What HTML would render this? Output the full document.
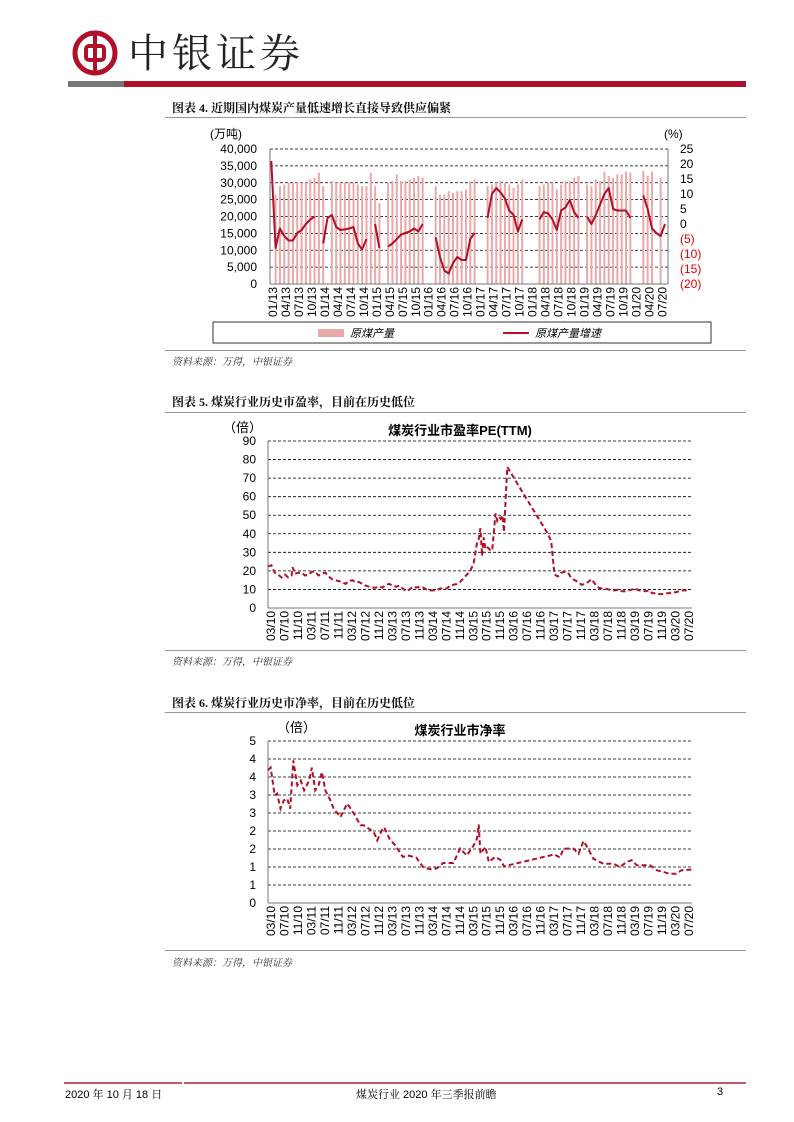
<!DOCTYPE html>
<html><head><meta charset="utf-8">
<style>
body{margin:0;width:794px;height:1122px;background:#fff;position:relative;overflow:hidden;font-family:"Liberation Sans","Noto Sans CJK SC",sans-serif;}
.abs{position:absolute;}
.sec{font-family:"Liberation Serif","Noto Serif CJK SC",serif;font-weight:bold;font-size:12px;color:#111;}
.src{font-family:"Liberation Serif","Noto Serif CJK SC",serif;font-style:italic;font-size:10px;color:#333;}
.hl{height:1px;background:#999;}
svg text{font-family:"Liberation Sans","Noto Sans CJK SC",sans-serif;}
</style></head><body>
<svg class="abs" style="left:72px;top:30px" width="46" height="46">
<circle cx="23" cy="23" r="20" fill="none" stroke="#b0102a" stroke-width="5"/>
<rect x="14" y="16" width="18" height="14" rx="3" fill="none" stroke="#b0102a" stroke-width="4"/>
<line x1="23" y1="3" x2="23" y2="43" stroke="#b0102a" stroke-width="4"/>
</svg>
<div class="abs" style="left:128px;top:26px;font-family:'Noto Serif CJK SC',serif;font-size:40px;letter-spacing:4px;color:#222;line-height:50px">中银证券</div>
<div class="abs" style="left:68px;top:81px;width:56px;height:6px;background:#777"></div>
<div class="abs" style="left:124px;top:81px;width:622px;height:6px;background:#b0102a"></div>

<div class="abs sec" style="left:172px;top:99px">图表 4. 近期国内煤炭产量低速增长直接导致供应偏紧</div>
<div class="abs hl" style="left:165px;top:117px;width:581px"></div>
<svg class="abs" id="c1" style="left:0;top:118px" width="794" height="232"></svg>
<div class="abs hl" style="left:165px;top:350px;width:581px"></div>
<div class="abs src" style="left:172px;top:353px">资料来源：万得，中银证券</div>

<div class="abs sec" style="left:172px;top:393px">图表 5. 煤炭行业历史市盈率，目前在历史低位</div>
<div class="abs hl" style="left:165px;top:412px;width:581px"></div>
<svg class="abs" id="c2" style="left:0;top:413px" width="794" height="237"></svg>
<div class="abs hl" style="left:165px;top:650px;width:581px"></div>
<div class="abs src" style="left:172px;top:653px">资料来源：万得，中银证券</div>

<div class="abs sec" style="left:172px;top:694px">图表 6. 煤炭行业历史市净率，目前在历史低位</div>
<div class="abs hl" style="left:165px;top:712px;width:581px"></div>
<svg class="abs" id="c3" style="left:0;top:713px" width="794" height="237"></svg>
<div class="abs hl" style="left:165px;top:950px;width:581px"></div>
<div class="abs src" style="left:172px;top:954px">资料来源：万得，中银证券</div>

<div class="abs" style="left:64px;top:1082px;width:118px;height:2px;background:#c05a6a"></div>
<div class="abs" style="left:184px;top:1082px;width:562px;height:2px;background:#c05a6a"></div>
<div class="abs" style="left:65px;top:1086px;font-size:11px;font-family:'Liberation Sans','Noto Serif CJK SC',sans-serif">2020 年 10 月 18 日</div>
<div class="abs" style="left:356px;top:1086px;font-size:11px;font-family:'Liberation Sans','Noto Serif CJK SC',sans-serif">煤炭行业 2020 年三季报前瞻</div>
<div class="abs" style="left:717px;top:1086px;font-size:11px">3</div>

<script>
// ---------- Chart 1 data ----------
const c1Labels=["01/13","04/13","07/13","10/13","01/14","04/14","07/14","10/14","01/15","04/15","07/15","10/15","01/16","04/16","07/16","10/16","01/17","04/17","07/17","10/17","01/18","04/18","07/18","10/18","01/19","04/19","07/19","10/19","01/20","04/20","07/20"];
const c1LeftTicks=[0,5000,10000,15000,20000,25000,30000,35000,40000];
const c1RightTicks=[-20,-15,-10,-5,0,5,10,15,20,25];
const output=[null,26500,29000,29500,30000,30000,30000,30000,30000,31000,31500,33000,
29000,null,30500,30000,30000,30000,30000,30000,29500,29000,29000,33000,
29000,24000,null,30000,30500,32500,30500,30500,31000,31500,32000,31500,
null,null,29000,26500,26500,27500,27000,27500,27500,28000,30500,31000,
null,null,29000,29500,30000,30500,30000,29500,28500,29500,31000,null,
null,null,29000,29500,30000,30000,28000,29500,30500,30500,31500,32000,
null,29500,29000,31000,30500,33300,32000,31500,32500,32500,33300,33000,
null,null,33500,32000,33300,null,31500,null];
const growth=[21,-8,-1.5,-4,-5.5,-5.5,-3,-2,0,1.5,2.5,null,
-6.5,2,3,-1,-2,-1.8,-1.5,-1,-6.5,-8.5,-5,null,
0,-8,null,-7.5,-6.5,-5,-3.5,-3,-2.5,-1.5,-2.5,0,
null,null,-4.5,-11,-15.5,-16.5,-13,-11,-12,-12,-5,-3,
null,null,2,10,12,10.5,8.5,4.5,3,-2.5,1.5,null,
null,null,1.5,4,3.5,1.5,-2,4.5,5.5,8,4,2,
null,2.5,0,3,6.5,10,12,5,4.5,4.5,4.5,2,
null,null,9.5,5,-1.5,-3,-4,0];

// ---------- Chart 2 data ----------
const peMonths=[0,1,2,3,4,5,6,7,7.3,8,9,10,11,12,13,14,15,16,17,18,19,20,21,22,23,24,25,26,27,28,29,30,31,32,33,34,35,36,37,38,39,40,41,42,43,44,45,46,47,48,49,50,51,52,53,54,55,56,57,58,59,60,61,62,62.5,63,63.5,64,64.5,65,66,66.5,67,67.5,68,68.5,69,69.5,70,71,83,84,85,86,87,88,89,90,91,92,93,94,95,96,97,98,99,100,101,102,103,104,105,106,107,108,109,110,111,112,113,114,115,116,117,118,119,120,121,122,123,124,125];
const peValues=[22.5,23,19,18,16.5,18,16.5,17.5,22,18.5,19,19,17.5,18,19.5,19.5,17.5,18.5,19,17,15.5,15,14.5,14,13,14.5,15,14,14,13,12,11.5,11,11,11.5,11,12.5,13,12,11.5,12,10.5,9,10,11.5,11,11.5,11,10,9.5,9.5,9.5,10.5,10.5,10.5,12,12.5,13,14,16,18,20,24,35,37,43,28,38,32,33,31,31,41,51,47,49,48,50,41,76,40,36,18,17,19,19.5,19,16,15,14,12.5,13,14,15.5,13,11,10.5,10.5,10,9.5,9.5,10,9,9,9.5,10,10.5,9.5,9.5,9,9.5,8,8,7.5,7.5,8,8,8.5,8.5,9,9.5,9.5,9.5];
const c2Labels=["03/10","07/10","11/10","03/11","07/11","11/11","03/12","07/12","11/12","03/13","07/13","11/13","03/14","07/14","11/14","03/15","07/15","11/15","03/16","07/16","11/16","03/17","07/17","11/17","03/18","07/18","11/18","03/19","07/19","11/19","03/20","07/20"];
const peTicks=[0,10,20,30,40,50,60,70,80,90];

// ---------- Chart 3 data ----------
const pbMonths=[0,0.8,2,2.7,3.7,4.7,5.7,6.6,7.5,8.7,9.7,10.7,12.2,13,14,15,16,17,18.5,19.5,21.5,23.5,25.5,27.4,28.4,31.4,32.4,34,34.5,36,38,40,41.5,44,46,48,50,52,55,57,59,61,62,62.5,63,64.5,65.5,67.4,68.9,70,85,86.6,87.7,90.6,92.1,93.6,94.6,96.5,99.5,102.5,104.4,106.4,107.9,109.4,113.3,115.3,117.3,119.2,121,122.7,126];
const pbValues=[3.69,3.76,2.99,3.04,2.62,2.85,2.9,2.62,3.96,3.27,3.4,3.13,3.4,3.76,3.13,3.27,3.64,3.13,2.85,2.62,2.39,2.76,2.48,2.16,2.16,1.97,1.74,2.06,2.1,1.79,1.57,1.28,1.32,1.26,1.0,0.94,0.96,1.11,1.11,1.51,1.32,1.6,1.79,2.18,1.37,1.56,1.14,1.28,1.2,1.02,1.35,1.26,1.51,1.51,1.37,1.72,1.57,1.23,1.09,1.09,1.0,1.14,1.19,1.05,1.05,0.91,0.86,0.81,0.81,0.91,0.93];
const pbTickValues=[0,0.5,1,1.5,2,2.5,3,3.5,4,4.5];
const pbTickLabels=["0","1","1","2","2","3","3","4","4","5"];

const NS="http://www.w3.org/2000/svg";
function mk(svg,tag,attrs,text){const e=document.createElementNS(NS,tag);for(const k in attrs)e.setAttribute(k,attrs[k]);if(text!==undefined)e.textContent=text;svg.appendChild(e);return e;}
const RED="#b0102a";

// ===== Chart 1 =====
(function(){
const svg=document.getElementById('c1');const T=118;
const x0=270,x1=668,yT=149-T,yB=284-T;
const nM=output.length;
const xs=m=>x0+(m+0.3)*(x1-x0)/nM;
const yl=v=>yB-(v/40000)*(yB-yT);
const yr=v=>yB-((v+20)/45)*(yB-yT);
c1LeftTicks.forEach(v=>{
 if(v>0){const g=mk(svg,'line',{x1:x0,x2:x1,y1:yl(v),y2:yl(v),stroke:'#000','stroke-width':0.8,'stroke-dasharray':'3,2'});
 
 }
 const t=mk(svg,'text',{x:257,y:yl(v)+4,'text-anchor':'end','font-size':12},v.toLocaleString('en-US'));
 
 
});
c1RightTicks.forEach(v=>{
 const t=mk(svg,'text',{x:680,y:yr(v)+4,'font-size':12,fill:v<0?'#e00000':'#000'},v<0?'('+(-v)+')':String(v));
 
 
});
output.forEach((v,i)=>{ if(v==null)return;
 const r=mk(svg,'rect',{x:xs(i)-1,y:yl(v),width:2,height:yB-yl(v),fill:'#eaa9a9'});
 
 
});
let d='',pen=false;
growth.forEach((v,i)=>{ if(v==null){pen=false;return;} d+=(pen?'L':'M')+xs(i).toFixed(1)+','+yr(v).toFixed(1);pen=true;});
const p=mk(svg,'path',{d:d,fill:'none',stroke:RED,'stroke-width':2,'stroke-linejoin':'round'});


const a1=mk(svg,'line',{x1:x0,x2:x0,y1:yT,y2:yB,stroke:'#777','stroke-width':1});


const a2=mk(svg,'line',{x1:x1,x2:x1,y1:yT,y2:yB,stroke:'#777','stroke-width':1});


const a3=mk(svg,'line',{x1:x0,x2:x1,y1:yB,y2:yB,stroke:'#777','stroke-width':1});


c1Labels.forEach((l,k)=>{const x=x0+(k*3)*(x1-x0)/nM+7;
 const t=mk(svg,'text',{x:0,y:0,'font-size':12,'text-anchor':'end',transform:`translate(${x},${yB+3}) rotate(-90)`},l);
 
 
});
const u=mk(svg,'text',{x:210,y:20,'font-size':12},'(万吨)');


const u2=mk(svg,'text',{x:664,y:20,'font-size':12},'(%)');


const lb=mk(svg,'rect',{x:213,y:204,width:498,height:21,fill:'#fff',stroke:'#333','stroke-width':1});


const ls=mk(svg,'rect',{x:318,y:211,width:26,height:8,fill:'#eaa9a9'});


const lt=mk(svg,'text',{x:350,y:219,'font-size':11,'font-style':'italic'},'原煤产量');


const ll=mk(svg,'line',{x1:503,x2:529,y1:215,y2:215,stroke:RED,'stroke-width':2});


const lt2=mk(svg,'text',{x:535,y:219,'font-size':11,'font-style':'italic'},'原煤产量增速');


})();

// ===== generic line chart =====
function lineChart(id,T,yTop,yBot,maxV,ticks,tickLabels,months,values,title,titleX,unitX){
 const svg=document.getElementById(id);
 const x0=268,x1=692,yT=yTop-T,yB=yBot-T;
 const xs=m=>x0+m*(686-268)/124;
 const ys=v=>yB-(v/maxV)*(yB-yT);
 ticks.forEach((v,i)=>{
  if(v>0){const g=mk(svg,'line',{x1:x0,x2:x1,y1:ys(v),y2:ys(v),stroke:'#000','stroke-width':0.8,'stroke-dasharray':'3,2'});
  
  }
  const t=mk(svg,'text',{x:256,y:ys(v)+4,'text-anchor':'end','font-size':12},tickLabels[i]);
  
  
 });
 const ay=mk(svg,'line',{x1:x0,x2:x0,y1:yT,y2:yB,stroke:'#777','stroke-width':1});
 
 
 const ax=mk(svg,'line',{x1:x0,x2:x1,y1:yB,y2:yB,stroke:'#777','stroke-width':1});
 
 
 c2Labels.forEach((l,k)=>{const x=xs(k*4)+7;
  const t=mk(svg,'text',{x:0,y:0,'font-size':12,'text-anchor':'end',transform:`translate(${x},${yB+3}) rotate(-90)`},l);
  
  
 });
 let d='';months.forEach((m,i)=>{d+=(i?'L':'M')+xs(m).toFixed(1)+','+ys(values[i]).toFixed(1);});
 const p=mk(svg,'path',{d:d,fill:'none',stroke:RED,'stroke-width':2,'stroke-dasharray':'5,3'});
 
 
 const tt=mk(svg,'text',{x:titleX,y:yT-6,'text-anchor':'middle','font-size':13,'font-weight':'bold','font-family':'"Liberation Serif","Noto Serif CJK SC",serif'},title);
 
 
 const u=mk(svg,'text',{x:unitX,y:yT-9,'font-size':13},'（倍）');
 
 
}
lineChart('c2',413,441,608,90,peTicks,peTicks.map(String),peMonths,peValues,'煤炭行业市盈率PE(TTM)',460,223);
lineChart('c3',713,741,903,4.5,pbTickValues,pbTickLabels,pbMonths,pbValues,'煤炭行业市净率',460,277);
</script>
</body></html>
